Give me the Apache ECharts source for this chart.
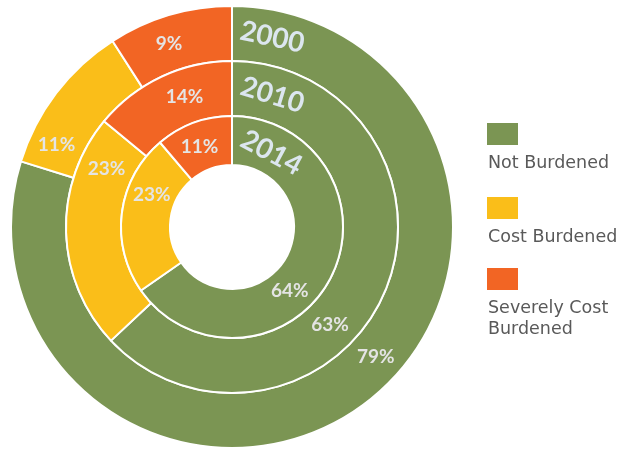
<!DOCTYPE html>
<html><head><meta charset="utf-8">
<script src="https://cdn.jsdelivr.net/npm/echarts@6/dist/echarts.min.js"></script>
<style>html,body{margin:0;padding:0;background:#fff}#c{width:632px;height:449px}</style>
</head><body><div id="c"></div>
<script>
const categories = ['Not Burdened', 'Cost Burdened', 'Severely Cost Burdened'];
const legendLabels = ['Not Burdened', 'Cost Burdened', 'Severely Cost\nBurdened'];
const years = ['2000', '2010', '2014'];
const values2000 = [79, 11, 9];
const values2010 = [63, 23, 14];
const values2014 = [64, 23, 11];
const seriesValues = [values2000, values2010, values2014];

const colors = ['#7B9553', '#FABE19', '#F26524'];
const CX = 232, CY = 227;
const rings = [[166, 221], [111, 166], [62, 111]];
const labelAngles = [[132, 295, 341], [135, 295, 340], [138, 292, 338]];
const yearPos = [{a: 12, r: 194, rot: 12}, {a: 17, r: 138, rot: 17}, {a: 28, r: 84, rot: 28}];

function polar(r, deg) {
  const t = deg * Math.PI / 180;
  return [CX + r * Math.sin(t), CY - r * Math.cos(t)];
}

const chart = echarts.init(document.getElementById('c'), null, {renderer: 'canvas'});
const series = seriesValues.map((vals, ri) => ({
  type: 'pie',
  name: years[ri],
  center: [CX, CY],
  radius: rings[ri],
  startAngle: 90,
  clockwise: true,
  silent: true,
  animation: false,
  itemStyle: {borderColor: '#fff', borderWidth: 2},
  label: {
    show: true, position: 'inside',
    formatter: p => p.value + '%',
    color: '#E4E4E4', fontFamily: 'Lato', fontWeight: 'bold', fontSize: 19
  },
  labelLine: {show: false},
  labelLayout: function (p) {
    const mid = (rings[ri][0] + rings[ri][1]) / 2;
    const xy = polar(mid, labelAngles[ri][p.dataIndex]);
    return {x: xy[0], y: xy[1], align: 'center', verticalAlign: 'middle'};
  },
  data: vals.map((v, i) => ({name: categories[i], value: v, itemStyle: {color: colors[i]}}))
}));

const graphics = [];
years.forEach((y, i) => {
  const xy = polar(yearPos[i].r, yearPos[i].a);
  graphics.push({
    type: 'text', x: xy[0], y: xy[1], z: 100, rotation: -yearPos[i].rot * Math.PI / 180,
    style: {text: y, fill: '#DCE6EF', fontFamily: 'Lato', fontWeight: 'bold', fontStyle: 'normal', fontSize: 28, align: 'center', verticalAlign: 'middle'}
  });
});
const legendTops = [123, 197, 268];
categories.forEach((c, i) => {
  graphics.push({type: 'rect', shape: {x: 487, y: legendTops[i], width: 31, height: 22}, style: {fill: colors[i]}});
  graphics.push({type: 'text', x: 488, y: legendTops[i] + 30,
    style: {text: legendLabels[i], fill: '#595959', fontFamily: 'DejaVu Sans', fontSize: 17.5, lineHeight: 21, verticalAlign: 'top', align: 'left'}});
});

chart.setOption({
  animation: false,
  backgroundColor: '#fff',
  series: series,
  graphic: graphics
});
</script></body></html>
